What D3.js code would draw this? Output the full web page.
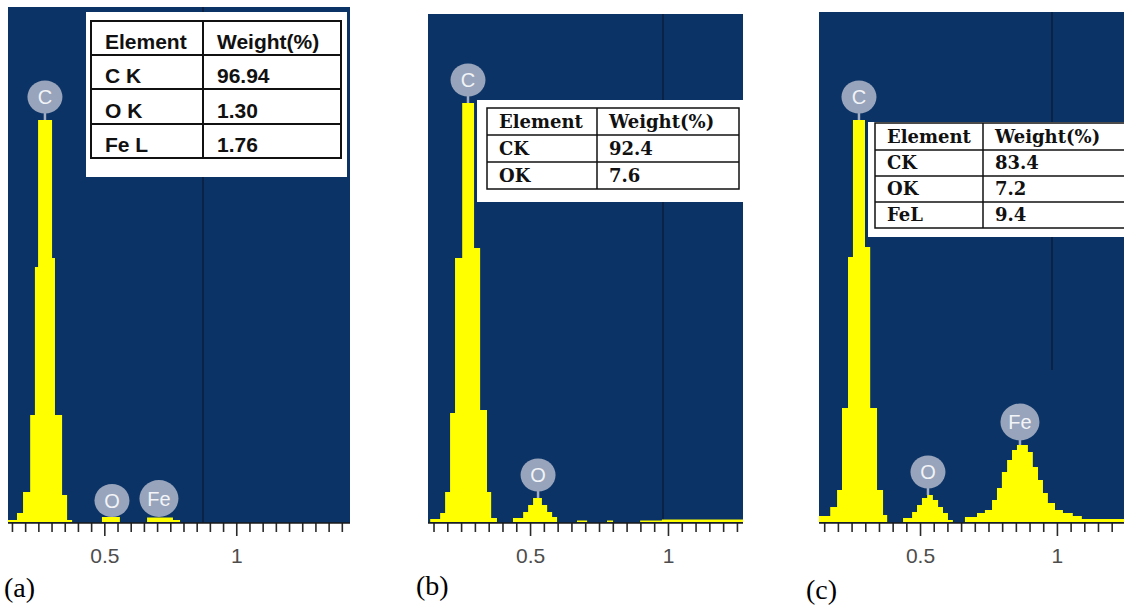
<!DOCTYPE html>
<meta charset="utf-8">
<style>
body { margin: 0; background: #fff; }
.tick text { font-family: "Liberation Sans", Arial, sans-serif; }
</style>
<body>
<script src="https://cdn.jsdelivr.net/npm/d3@7"></script>
<script>

var width = 1124;
var height = 609;

// spectra: left edge of each step (keV) and its count (arbitrary units)
var aEnergy = [0.135, 0.169, 0.192, 0.219, 0.237, 0.249, 0.302, 0.313, 0.340, 0.359, 0.378,
               0.491, 0.559, 0.662, 0.760, 0.787];
var aCounts = [2, 9, 30, 107, 255, 402, 264, 107, 27, 2, 0,
               5, 0, 4.5, 2, 0];

var bEnergy = [0.138, 0.174, 0.192, 0.210, 0.228, 0.254, 0.297, 0.319, 0.344, 0.359, 0.380,
               0.438, 0.475, 0.493, 0.511, 0.543, 0.562, 0.580, 0.598,
               0.670, 0.707, 0.779, 0.801, 0.899, 0.978, 1.272];
var bCounts = [3, 9, 30, 109, 264, 419, 274, 112, 30, 4, 0,
               4, 10, 17, 24, 17, 10, 5, 0,
               1.5, 0, 1.5, 0, 1.5, 2.5, 0];

var cEnergy = [0.131, 0.172, 0.197, 0.215, 0.237, 0.255, 0.299, 0.318, 0.343, 0.365, 0.380,
               0.438, 0.471, 0.489, 0.507, 0.526, 0.547, 0.566, 0.584, 0.602, 0.620,
               0.664, 0.708, 0.737, 0.763, 0.781, 0.799, 0.818, 0.836, 0.854, 0.894,
               0.912, 0.931, 0.949, 0.967, 0.993, 1.022, 1.058, 1.091, 1.245];
var cCounts = [6, 15, 32, 114, 265, 402, 275, 114, 32, 7, 0,
               4, 10, 17, 24, 27, 22, 15, 9, 2, 0,
               5, 9, 12, 22, 34, 50, 62, 72, 77, 70,
               55, 42, 29, 19, 12, 9, 6, 3, 0];

// peak labels
var aPeaks = [{el: "C", e: 0.275, c: 402}, {el: "O", e: 0.529, c: 5}, {el: "Fe", e: 0.707, c: 5}];
var bPeaks = [{el: "C", e: 0.275, c: 419}, {el: "O", e: 0.529, c: 24}];
var cPeaks = [{el: "C", e: 0.277, c: 402}, {el: "O", e: 0.529, c: 27}, {el: "Fe", e: 0.865, c: 77}];

// quantification tables
var aTable = [["Element", "Weight(%)"], ["C K", "96.94"], ["O K", "1.30"], ["Fe L", "1.76"]];
var bTable = [["Element", "Weight(%)"], ["CK", "92.4"], ["OK", "7.6"]];
var cTable = [["Element", "Weight(%)"], ["CK", "83.4"], ["OK", "7.2"], ["FeL", "9.4"]];

var panels = [
  {tag: "(a)", tagX: 4, tagY: 597, left: 8, right: 350, top: 7, dom: [0.135, 1.431], tickMax: 1.40,
   energy: aEnergy, counts: aCounts, peaks: aPeaks, cursor: 0.874, cursorEnd: 523,
   table: aTable, box: [86, 12, 347, 177], tx: [91, 203, 341], rows: [21, 55, 89, 124, 158],
   font: "bold 21px 'Liberation Sans', Arial, sans-serif", pad: 14, base: 6, bw: 2},
  {tag: "(b)", tagX: 416, tagY: 595, left: 428, right: 743, top: 14, dom: [0.130, 1.272], tickMax: 1.25,
   energy: bEnergy, counts: bCounts, peaks: bPeaks, cursor: 0.982, cursorEnd: 523,
   table: bTable, box: [477, 100, 745, 202], tx: [487, 597, 739], rows: [108, 135, 162, 189],
   font: "bold 18px 'DejaVu Serif', serif", pad: 12, base: 7, bw: 1.5},
  {tag: "(c)", tagX: 806, tagY: 599, left: 819, right: 1124, top: 12, dom: [0.131, 1.245], tickMax: 1.25,
   energy: cEnergy, counts: cCounts, peaks: cPeaks, cursor: 0.982, cursorEnd: 370,
   table: cTable, box: [868, 122, 1135, 237], tx: [875, 983, 1135], rows: [123, 150, 176, 202, 228],
   font: "bold 18px 'DejaVu Serif', serif", pad: 12, base: 7, bw: 1.5}
];

var baseline = 523;
var svg = d3.select("body").append("svg")
    .attr("width", width)
    .attr("height", height);

var y = d3.scaleLinear().domain([0, 510]).range([522, 12]);

panels.forEach(function(p) {
  var x = d3.scaleLinear().domain(p.dom).range([p.left, p.right]);
  var g = svg.append("g");

  // plot background
  g.append("rect")
    .attr("x", p.left).attr("y", p.top)
    .attr("width", p.right - p.left).attr("height", baseline - p.top)
    .attr("fill", "#0b3366");

  // cursor line
  g.append("line")
    .attr("x1", x(p.cursor)).attr("x2", x(p.cursor))
    .attr("y1", p.top).attr("y2", p.cursorEnd)
    .attr("stroke", "#0a1e3c").attr("stroke-width", 1.5);

  // spectrum
  var pts = p.energy.map(function(e, i) { return {e: e, c: p.counts[i]}; });
  var area = d3.area()
    .x(function(d) { return x(d.e); })
    .y0(y(0))
    .y1(function(d) { return y(d.c); })
    .curve(d3.curveStepAfter);
  g.append("path").datum(pts)
    .attr("d", area)
    .attr("fill", "#ffff00");

  // peak labels
  p.peaks.forEach(function(pk) {
    var r = pk.el == "Fe" ? 18.5 : 16.5;
    var gap = pk.c < 10 ? r : 23;
    var cx = x(pk.e), cy = y(pk.c) - gap;
    if (gap > r) {
      g.append("line")
        .attr("x1", cx).attr("x2", cx)
        .attr("y1", cy + r - 1).attr("y2", y(pk.c))
        .attr("stroke", "#a3aec2").attr("stroke-width", 2.5);
    }
    g.append("ellipse")
      .attr("cx", cx).attr("cy", cy)
      .attr("rx", r + 1).attr("ry", r)
      .attr("fill", "#98a4bb");
    g.append("text")
      .attr("x", cx).attr("y", cy + 7)
      .attr("text-anchor", "middle")
      .attr("fill", "#f2f4f8")
      .style("font", "20px 'Liberation Sans', Arial, sans-serif")
      .text(pk.el);
  });

  // axis
  var ticks = d3.range(0.15, p.tickMax + 0.001, 0.05).map(function(d) { return Math.round(d * 100) / 100; });
  var isMajor = function(d) { return d == 0.5 || d == 1; };
  var ax = g.append("g")
    .attr("transform", "translate(0," + baseline + ")")
    .call(d3.axisBottom(x).tickValues(ticks).tickSize(9)
      .tickFormat(function(d) { return isMajor(d) ? (d == 1 ? "1" : "0.5") : ""; }));
  ax.select(".domain").remove();
  ax.selectAll(".tick line")
    .attr("stroke", "#2a2a2a").attr("stroke-width", 1.6)
    .attr("y2", function(d) { return isMajor(d) ? 13 : 9; });
  ax.selectAll(".tick text")
    .attr("y", 25)
    .attr("fill", "#4d4d4d")
    .style("font-size", "21px");
  g.append("line")
    .attr("x1", p.left).attr("x2", p.right)
    .attr("y1", baseline).attr("y2", baseline)
    .attr("stroke", "#1a1a1a").attr("stroke-width", 1.5);

  // table
  g.append("rect")
    .attr("x", p.box[0]).attr("y", p.box[1])
    .attr("width", p.box[2] - p.box[0]).attr("height", p.box[3] - p.box[1])
    .attr("fill", "#ffffff");
  var r0 = p.rows[0], r1 = p.rows[p.rows.length - 1];
  g.append("rect")
    .attr("x", p.tx[0]).attr("y", r0)
    .attr("width", p.tx[2] - p.tx[0]).attr("height", r1 - r0)
    .attr("fill", "none").attr("stroke", "#111").attr("stroke-width", p.bw);
  g.append("line")
    .attr("x1", p.tx[1]).attr("x2", p.tx[1]).attr("y1", r0).attr("y2", r1)
    .attr("stroke", "#111").attr("stroke-width", p.bw);
  p.rows.slice(1, -1).forEach(function(ry) {
    g.append("line")
      .attr("x1", p.tx[0]).attr("x2", p.tx[2]).attr("y1", ry).attr("y2", ry)
      .attr("stroke", "#111").attr("stroke-width", p.bw);
  });
  p.table.forEach(function(row, i) {
    row.forEach(function(cell, j) {
      g.append("text")
        .attr("x", p.tx[j] + p.pad)
        .attr("y", p.rows[i + 1] - p.base)
        .attr("fill", "#111")
        .style("font", p.font)
        .text(cell);
    });
  });

  // panel tag
  svg.append("text")
    .attr("x", p.tagX).attr("y", p.tagY)
    .attr("fill", "#000")
    .style("font", "28px 'Liberation Serif', 'Times New Roman', serif")
    .text(p.tag);
});

</script>
</body>
</html>
